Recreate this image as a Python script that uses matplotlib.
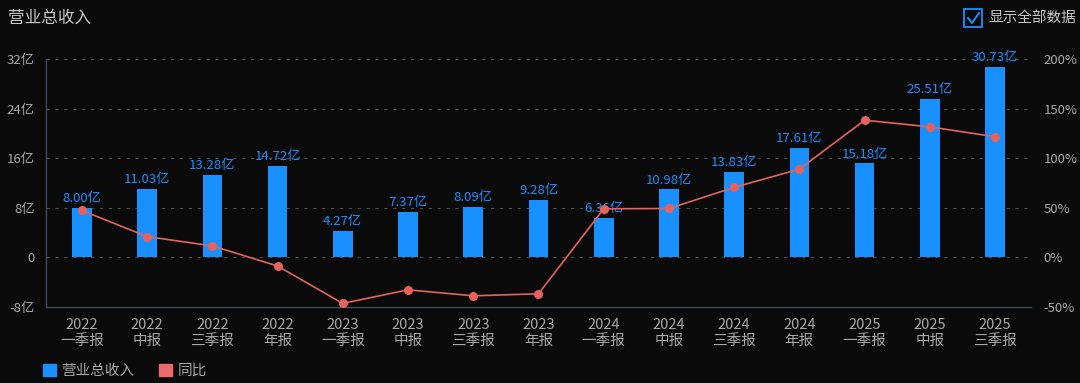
import matplotlib
matplotlib.use("Agg")
import matplotlib.pyplot as plt
from matplotlib.patches import Patch, Rectangle
from matplotlib.lines import Line2D
import numpy as np

plt.rcParams['font.family'] = ['Noto Sans CJK SC', 'DejaVu Sans']

# data
periods = ['2022\n一季报', '2022\n中报', '2022\n三季报', '2022\n年报',
           '2023\n一季报', '2023\n中报', '2023\n三季报', '2023\n年报',
           '2024\n一季报', '2024\n中报', '2024\n三季报', '2024\n年报',
           '2025\n一季报', '2025\n中报', '2025\n三季报']
revenue = [8.00, 11.03, 13.28, 14.72, 4.27, 7.37, 8.09, 9.28,
           6.36, 10.98, 13.83, 17.61, 15.18, 25.51, 30.73]
yoy = [47.3, 21.0, 11.6, -8.7, -46.4, -32.7, -38.7, -36.7,
       49.0, 49.3, 70.6, 89.0, 138.3, 131.6, 121.6]
left_ticks = [-8, 0, 8, 16, 24, 32]
left_labels = ['-8亿', '0', '8亿', '16亿', '24亿', '32亿']
right_ticks = [-50, 0, 50, 100, 150, 200]
right_labels = ['-50%', '0%', '50%', '100%', '150%', '200%']

bg = '#0a0a0a'
bar_c = '#1890ff'
line_c = '#e5635e'
txt_c = '#a8a8a8'
axis_c = '#3b4a5c'

fig = plt.figure(figsize=(10.8, 3.83), dpi=100, facecolor=bg)
ax = fig.add_axes([46 / 1080, 76 / 383, 985 / 1080, 248 / 383])
ax.set_facecolor(bg)

x = np.arange(len(periods))
ax.bar(x, revenue, width=0.3, color=bar_c, zorder=2)
for xi, v in zip(x, revenue):
    ax.annotate(f'{v:.2f}亿', (xi, v), xytext=(0, 2), textcoords='offset points',
                ha='center', va='bottom', color=bar_c, fontsize=9.5, zorder=4)

ax.set_xlim(-0.55, 14.55)
ax.set_ylim(-8, 32)
ax.set_yticks(left_ticks)
ax.set_yticklabels(left_labels)
ax.set_xticks(x)
ax.set_xticklabels(periods, linespacing=1.15)
for t in left_ticks[1:]:
    ax.axhline(t, color='#4a4a4a', lw=0.8, ls=(0, (3, 5)), zorder=1)

ax.tick_params(axis='both', length=0, colors=txt_c, labelsize=9.5)
ax.tick_params(axis='x', labelsize=10.5, pad=8)
ax.tick_params(axis='y', pad=8)
for s in ['top', 'right']:
    ax.spines[s].set_visible(False)
for s in ['left', 'bottom']:
    ax.spines[s].set_color(axis_c)
    ax.spines[s].set_linewidth(1)

ax2 = ax.twinx()
ax2.plot(x, yoy, color=line_c, lw=1.2, marker='o', markersize=5.5, zorder=3)
ax2.set_ylim(-50, 200)
ax2.set_yticks(right_ticks)
ax2.set_yticklabels(right_labels)
ax2.tick_params(axis='y', length=0, colors=txt_c, labelsize=9.5, pad=9)
for s in ax2.spines.values():
    s.set_visible(False)

# title
fig.text(8 / 1080, 1 - 18 / 383, '营业总收入', color='#c8c8c8', fontsize=12,
         ha='left', va='center')

# checkbox
fig.patches.append(Rectangle((964 / 1080, 1 - 27 / 383), 18 / 1080, 18 / 383,
                             transform=fig.transFigure, fill=False,
                             edgecolor=bar_c, lw=1.3))
fig.lines.append(Line2D([968 / 1080, 972 / 1080, 979 / 1080],
                        [1 - 18 / 383, 1 - 23 / 383, 1 - 13 / 383],
                        transform=fig.transFigure, color=bar_c, lw=1.4))
fig.text(988 / 1080, 1 - 18 / 383, '显示全部数据', color='#c8c8c8', fontsize=10.5,
         ha='left', va='center')

# legend
handles = [Patch(facecolor=bar_c, edgecolor=bar_c, label='营业总收入'),
           Patch(facecolor='#e86a6a', edgecolor='#e86a6a', label='同比')]
leg = fig.legend(handles=handles, loc='center left', bbox_to_anchor=(30 / 1080, 1 - 371 / 383),
                 ncol=2, frameon=False, handlelength=0.9, handleheight=0.9,
                 handletextpad=0.35, columnspacing=1.7, fontsize=10.5)
for t in leg.get_texts():
    t.set_color(txt_c)

fig.savefig('out.png', dpi=100, facecolor=bg)
